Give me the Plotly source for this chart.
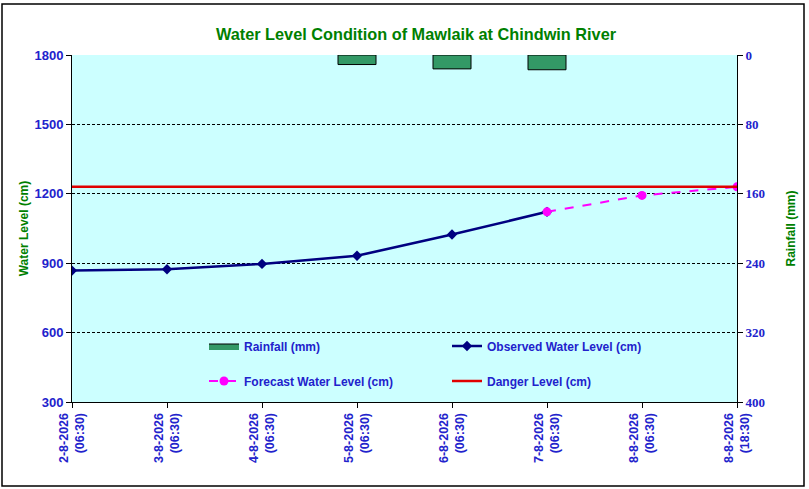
import plotly.graph_objects as go

categories = ["2-8-2026<br>(06:30)", "3-8-2026<br>(06:30)", "4-8-2026<br>(06:30)",
              "5-8-2026<br>(06:30)", "6-8-2026<br>(06:30)", "7-8-2026<br>(06:30)",
              "8-8-2026<br>(06:30)", "8-8-2026<br>(18:30)"]
rainfall = [None, None, None, 11, 16, 17, None, None]
observed_x = categories[:6]
observed = [868, 874, 897, 932, 1024, 1122]
forecast_x = categories[5:]
forecast = [1122, 1193, 1230]
danger_level = 1230
left_ticks = [300, 600, 900, 1200, 1500, 1800]
right_ticks = [0, 80, 160, 240, 320, 400]

W, H = 809, 489
L, R, T, B = 72, 737, 55, 402
pw, ph = R - L, B - T

blue = "#2222CC"
green = "#008000"
bar_green = "#339966"
lfont = dict(family="Liberation Sans, Arial", size=12, color=blue, weight="bold")
xfont = dict(family="Liberation Sans, Arial", size=12.5, color=blue, weight="bold")
tfont = dict(family="Liberation Sans, Arial", size=13, color=blue, weight="bold")

fig = go.Figure()
fig.add_trace(go.Bar(x=categories, y=rainfall, yaxis="y2", name="Rainfall (mm)",
                     width=0.4, marker=dict(color=bar_green, line=dict(color="black", width=1)),
                     showlegend=False))
# legend entry for rainfall drawn as a wide rectangle
fig.add_trace(go.Scatter(x=[None], y=[None], yaxis="y2", name="Rainfall (mm)", mode="lines",
                         fill="toself", fillcolor=bar_green,
                         line=dict(color="black", width=1), legend="legend"))
fig.add_trace(go.Scatter(x=observed_x, y=observed, mode="lines+markers",
                         name="Observed Water Level (cm)",
                         line=dict(color="#000080", width=2.5),
                         marker=dict(symbol="diamond", size=8, color="#000080"),
                         legend="legend"))
fig.add_trace(go.Scatter(x=forecast_x, y=forecast, mode="lines+markers",
                         name="Forecast Water Level (cm)",
                         line=dict(color="#FF00FF", width=2, dash="dash"),
                         marker=dict(symbol="circle", size=9, color="#FF00FF"),
                         legend="legend2"))
fig.add_trace(go.Scatter(x=[categories[0], categories[-1]], y=[danger_level, danger_level],
                         mode="lines", name="Danger Level (cm)",
                         line=dict(color="#E00000", width=2.5),
                         legend="legend2"))

leg_common = dict(orientation="h", xanchor="left", yanchor="middle",
                  entrywidth=198, entrywidthmode="pixels", bgcolor="rgba(0,0,0,0)",
                  font=lfont, traceorder="normal", itemwidth=30)

fig.update_layout(
    width=W, height=H,
    margin=dict(l=L, r=W - R, t=T, b=H - B),
    paper_bgcolor="white", plot_bgcolor="#CCFFFF",
    title=dict(text="Water Level Condition of Mawlaik at Chindwin River",
               x=416 / W, xref="container", xanchor="center",
               y=1 - 34 / H, yref="container", yanchor="middle",
               font=dict(family="Liberation Sans, Arial", size=16.3, color=green, weight="bold")),
    xaxis=dict(type="category", categoryorder="array", categoryarray=categories,
               range=[0, 7], showline=True, linecolor="black", linewidth=1,
               ticks="outside", ticklen=5, tickcolor="black", tickangle=-90,
               tickfont=xfont, showgrid=False),
    yaxis=dict(range=[300, 1800], tickvals=left_ticks, showline=True, linecolor="black",
               linewidth=1, ticks="outside", ticklen=5, tickcolor="black",
               tickfont=tfont, showgrid=True, gridcolor="black", griddash="3px,2px",
               gridwidth=1, zeroline=False,
               title=dict(text="Water Level (cm)", standoff=3,
                          font=dict(family="Liberation Sans, Arial", size=12, color=green, weight="bold"))),
    yaxis2=dict(range=[400, 0], tickvals=right_ticks, overlaying="y", side="right",
                showline=True, linecolor="black", linewidth=1, ticks="outside", ticklen=5,
                tickcolor="black", showgrid=False, zeroline=False,
                tickfont=dict(family="Liberation Serif, Times New Roman", size=13, color=blue, weight="bold"),
                title=dict(text="Rainfall (mm)", standoff=22,
                           font=dict(family="Liberation Sans, Arial", size=12, color=green, weight="bold"))),
    legend=dict(x=(204 - L) / pw, y=(B - 346) / ph, **leg_common),
    legend2=dict(x=(204 - L) / pw, y=(B - 381) / ph, **leg_common),
    shapes=[dict(type="rect", xref="paper", yref="paper",
                 x0=(2 - L) / pw, x1=(804 - L) / pw, y0=(B - 486) / ph, y1=(B - 4) / ph,
                 line=dict(color="black", width=1.5), fillcolor="rgba(0,0,0,0)", layer="below")],
)

fig.write_html("out.html", config={"displayModeBar": False},
               post_script="document.body.style.margin='0px';")
